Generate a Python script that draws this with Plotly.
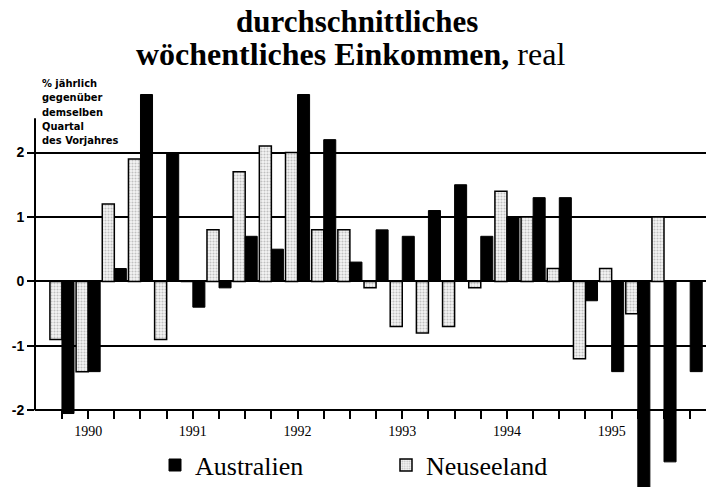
import plotly.graph_objects as go

# quarters 1989 Q4 .. 1995 Q4, year label under Q1 tick
quarters = list(range(25))
year_ticks = [1, 5, 9, 13, 17, 21]
year_labels = ['1990', '1991', '1992', '1993', '1994', '1995']

australien = [-2.05, -1.4, 0.2, 2.9, 2.0, -0.4, -0.1, 0.7, 0.5, 2.9, 2.2, 0.3, 0.8,
              0.7, 1.1, 1.5, 0.7, 1.0, 1.3, 1.3, -0.3, -1.4, -3.25, -2.8, -1.4]
neuseeland = [-0.9, -1.4, 1.2, 1.9, -0.9, 0.0, 0.8, 1.7, 2.1, 2.0, 0.8, 0.8, -0.1,
              -0.7, -0.8, -0.7, -0.1, 1.4, 1.0, 0.2, -1.2, 0.2, -0.5, 1.0, None]

serif = 'Liberation Serif'
ymin, ymax = -3.19, 2.97

# page has 8px body margin, so the figure is 8px smaller and shifted
OFF = 8
W, H = 714 - OFF, 489 - OFF
L, T = 35 - OFF, 90 - OFF


def px_x(p):
    return (p - OFF - L) / (W - L)


def px_y(p):
    return (H - (p - OFF)) / (H - T)


fig = go.Figure()
fig.add_trace(go.Bar(
    x=quarters, y=neuseeland, name='Neuseeland',
    marker=dict(color='white', line=dict(color='black', width=1.5),
                pattern=dict(shape='.', fgcolor='#8a8a8a', bgcolor='#f6f6f6',
                             size=3, solidity=0.4)),
))
fig.add_trace(go.Bar(
    x=quarters, y=australien, name='Australien',
    marker=dict(color='black', line=dict(color='black', width=1)),
))

ticktext = []
for q in quarters:
    ticktext.append(year_labels[year_ticks.index(q)] if q in year_ticks else '')

fig.update_layout(
    width=W, height=H,
    margin=dict(l=L, r=0, t=T, b=0),
    paper_bgcolor='white', plot_bgcolor='white',
    barmode='group', bargap=0.08, bargroupgap=0.0,
    xaxis=dict(
        range=[-1.03, 24.91], automargin=False,
        tickmode='array', tickvals=quarters, ticktext=ticktext,
        ticks='outside', ticklen=8, tickwidth=1.5, tickcolor='black',
        showline=True, linecolor='black', linewidth=2,
        showgrid=False, zeroline=False,
        anchor='free', position=(-2 - ymin) / (ymax - ymin),
        tickfont=dict(family=serif, size=14, color='black'),
    ),
    yaxis=dict(
        range=[ymin, ymax], automargin=False,
        tickmode='array', tickvals=[-2, -1, 0, 1, 2], ticktext=['-2', '-1', '0', '1', '2'],
        ticks='outside', ticklen=7, tickwidth=1.5, tickcolor='black',
        showgrid=True, gridcolor='black', gridwidth=1.5,
        showline=False, zeroline=False,
        tickfont=dict(family='Liberation Sans', size=14, color='black', weight='bold'),
    ),
    legend=dict(
        orientation='h', traceorder='reversed',
        x=px_x(155), xanchor='left',
        y=px_y(467), yanchor='middle',
        bgcolor='rgba(0,0,0,0)',
        font=dict(family=serif, size=26, color='black'),
        entrywidth=186, entrywidthmode='pixels',
    ),
    showlegend=True,
)

# left axis line
fig.add_shape(type='line', xref='paper', yref='y', x0=0, x1=0, y0=-2, y1=2.53,
              line=dict(color='black', width=2))

# title lines
fig.add_annotation(text='<b>durchschnittliches</b>', xref='paper', yref='paper',
                   x=px_x(357), y=px_y(21), xanchor='center', yanchor='middle',
                   showarrow=False, font=dict(family=serif, size=31, color='black'))
fig.add_annotation(text='<b>wöchentliches Einkommen,</b> real', xref='paper', yref='paper',
                   x=px_x(350), y=px_y(54), xanchor='center', yanchor='middle',
                   showarrow=False, font=dict(family=serif, size=32, color='black'))

fig.add_annotation(
    text='% jährlich<br>gegenüber<br>demselben<br>Quartal<br>des Vorjahres',
    xref='paper', yref='paper', x=px_x(40), y=px_y(75),
    xanchor='left', yanchor='top', align='left', showarrow=False,
    font=dict(family='DejaVu Sans Condensed', size=11, color='black', weight='bold'),
)

fig.write_html('out.html')
